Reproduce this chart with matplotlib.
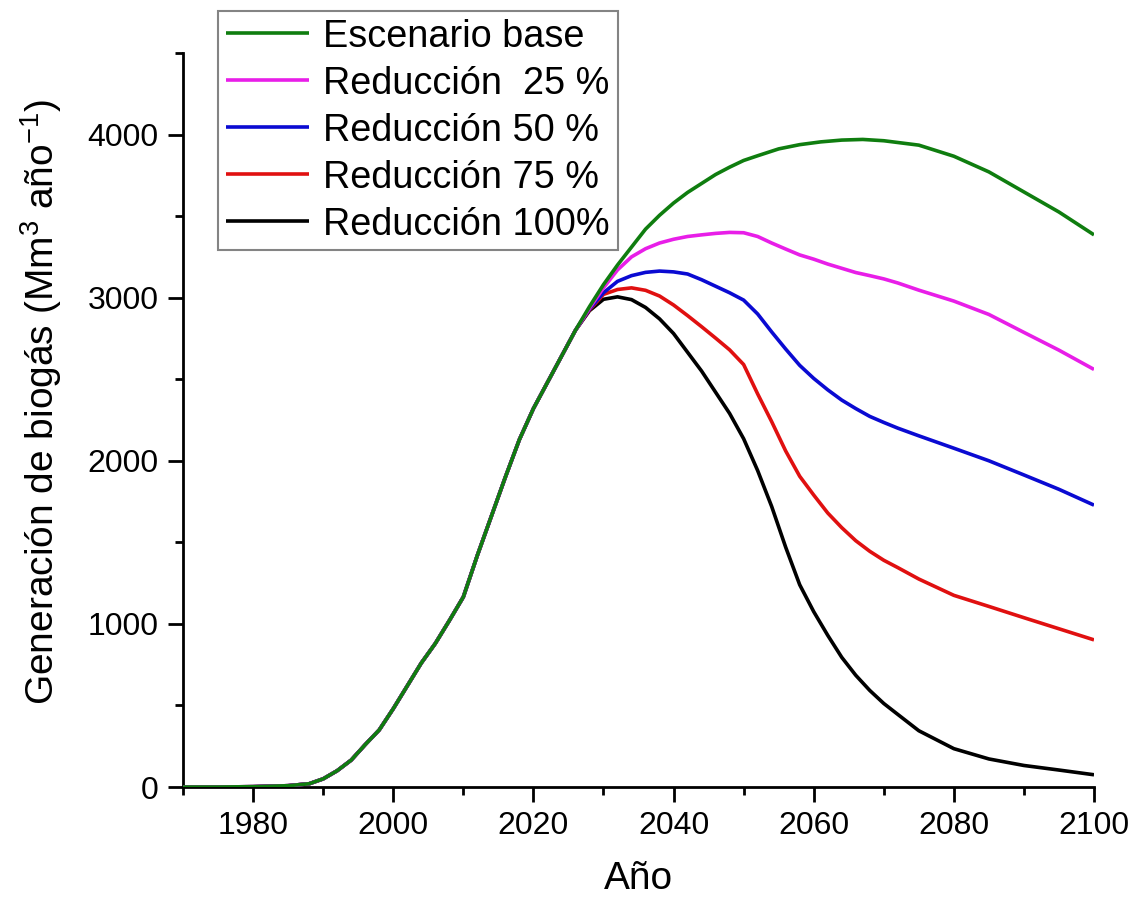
import numpy as np
import matplotlib
matplotlib.use('Agg')
import matplotlib.pyplot as plt
from matplotlib.ticker import MultipleLocator

plt.rcParams['font.family'] = ['Liberation Sans', 'DejaVu Sans']
plt.rcParams['mathtext.fontset'] = 'custom'
plt.rcParams['mathtext.rm'] = 'Liberation Sans'
plt.rcParams['mathtext.it'] = 'Liberation Sans'

# biogas generation (Mm3/yr), shared history up to the split around 2028
years_hist = [1970, 1975, 1980, 1985, 1988, 1990, 1992, 1994, 1996, 1998,
              2000, 2002, 2004, 2006, 2008, 2010, 2012, 2014, 2016, 2018,
              2020, 2022, 2024, 2026]
gen_hist = [0, 0, 2, 8, 20, 50, 100, 165, 260, 350,
            480, 620, 760, 880, 1020, 1165, 1420, 1660, 1900, 2130,
            2320, 2480, 2640, 2800]

years_base = [2028, 2030, 2032, 2034, 2036, 2038, 2040, 2042, 2044, 2046,
              2048, 2050, 2052, 2055, 2058, 2061, 2064, 2067, 2070, 2075,
              2080, 2085, 2090, 2095, 2100]
gen_base = [2945, 3080, 3200, 3310, 3420, 3505, 3580, 3645, 3700, 3755,
            3800, 3841, 3870, 3912, 3938, 3955, 3966, 3970, 3962, 3935,
            3867, 3771, 3648, 3525, 3385]

years_red = [2028, 2030, 2032, 2034, 2036, 2038, 2040, 2042, 2044, 2046,
             2048, 2050, 2052, 2054, 2056, 2058, 2060, 2062, 2064, 2066,
             2068, 2070, 2072, 2075, 2080, 2085, 2090, 2095, 2100]
gen_r25 = [2935, 3060, 3170, 3250, 3300, 3335, 3358, 3375, 3385, 3394,
           3400, 3398, 3375, 3335, 3298, 3262, 3236, 3206, 3180, 3154,
           3135, 3115, 3090, 3046, 2979, 2897, 2787, 2678, 2560]
gen_r50 = [2930, 3030, 3100, 3135, 3155, 3163, 3158, 3145, 3110, 3070,
           3030, 2985, 2900, 2790, 2685, 2585, 2505, 2435, 2372, 2320,
           2272, 2235, 2200, 2153, 2077, 2000, 1913, 1825, 1728]
gen_r75 = [2925, 3020, 3050, 3060, 3045, 3010, 2955, 2890, 2822, 2752,
           2680, 2590, 2410, 2240, 2060, 1905, 1790, 1680, 1590, 1510,
           1445, 1390, 1345, 1275, 1175, 1107, 1038, 970, 902]
gen_r100 = [2920, 2990, 3005, 2988, 2940, 2870, 2780, 2665, 2550, 2420,
            2290, 2135, 1940, 1720, 1470, 1240, 1075, 930, 795, 685,
            592, 512, 445, 345, 235, 172, 132, 104, 75]

labels = ['Escenario base', 'Reducción  25 %', 'Reducción 50 %',
          'Reducción 75 %', 'Reducción 100%']
colors = ['#0f7d0f', '#e81ee8', '#0a0ad2', '#e01010', '#000000']

fig = plt.figure(figsize=(11.39, 8.98), dpi=100)
ax = fig.add_axes([0.1607, 0.1236, 0.7998, 0.8174])

series = [gen_base, gen_r25, gen_r50, gen_r75, gen_r100]
# draw the reduction scenarios first so the base curve sits on top
for i in reversed(range(len(series))):
    x = years_hist + (years_base if i == 0 else years_red)
    y = gen_hist + series[i]
    ax.plot(x, y, color=colors[i], lw=2.6, label=labels[i],
            zorder=10 - i, solid_joinstyle='round', solid_capstyle='butt')

ax.set_xlim(1970, 2100)
ax.set_ylim(0, 4500)
ax.set_xticks([1980, 2000, 2020, 2040, 2060, 2080, 2100])
ax.xaxis.set_minor_locator(MultipleLocator(10))
ax.set_yticks([0, 1000, 2000, 3000, 4000])
ax.yaxis.set_minor_locator(MultipleLocator(500))

for side in ['top', 'right']:
    ax.spines[side].set_visible(False)
for side in ['left', 'bottom']:
    ax.spines[side].set_linewidth(2.0)

ax.tick_params(which='major', direction='out', length=10.5, width=2.0,
               labelsize=23, pad=7)
ax.tick_params(which='minor', direction='out', length=6, width=2.0)

ax.set_xlabel('Año', fontsize=28, labelpad=14)
ax.set_ylabel('Generación de biogás (Mm$^{3}$ año$^{-1}$)', fontsize=28)
ax.yaxis.set_label_coords(-0.1306, 0.5245)

handles, lbls = ax.get_legend_handles_labels()
leg = ax.legend(handles[::-1], lbls[::-1], loc='upper left',
                bbox_to_anchor=(0.0384, 1.0572), borderaxespad=0,
                fontsize=27.3, frameon=True, fancybox=False,
                handlelength=2.2, handletextpad=0.38, labelspacing=0.29,
                borderpad=0.2)
leg.get_frame().set_edgecolor('#666666')
leg.get_frame().set_linewidth(1.5)
leg.set_zorder(20)

fig.savefig('out.png', dpi=100)
